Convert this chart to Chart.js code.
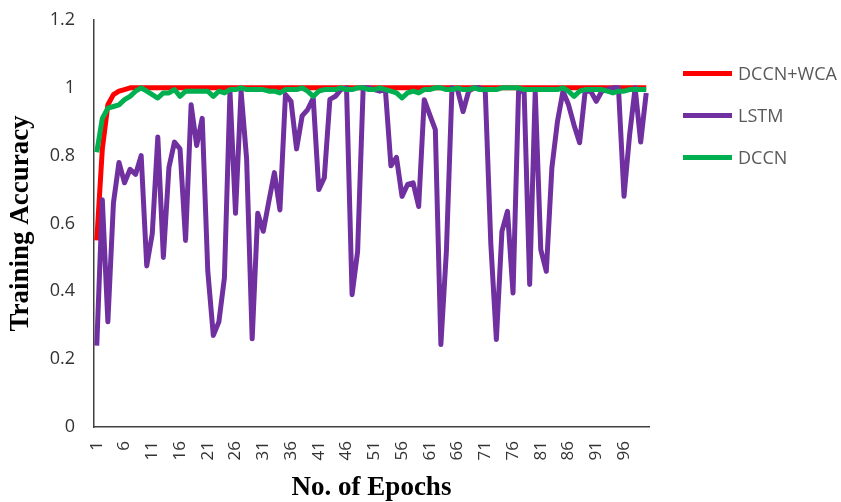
<!DOCTYPE html>
<html>
<head>
<meta charset="utf-8">
<title>Training Accuracy</title>
<script src="https://cdn.jsdelivr.net/npm/chart.js@4.4.1/dist/chart.umd.min.js"></script>
<style>
  html, body { margin: 0; padding: 0; background: #fff; }
  #wrap { position: relative; width: 841px; height: 502px; }
  #legend { position: absolute; left: 683px; top: 52px; font-family: "Open Sans", sans-serif; font-size: 18px; color: #595959; }
  .item { display: flex; align-items: center; height: 42px; }
  .swatch { width: 49px; height: 5px; margin-right: 6px; }
</style>
</head>
<body>
<div id="wrap">
  <canvas id="accChart" width="841" height="502"></canvas>
  <div id="legend"></div>
</div>
<script>
// epochs 1..100, labelled every 5th on the axis
const epochs = Array.from({ length: 100 }, (_, i) => String(i + 1));

const seriesNames = ['DCCN+WCA', 'LSTM', 'DCCN'];
const seriesColors = ['#FF0000', '#7030A0', '#00B050'];

const dccnWca = [
  0.55, 0.82, 0.95, 0.98, 0.99, 0.995, 1, 1, 1, 1,
  1, 1, 1, 1, 1, 1, 1, 1, 1, 1,
  1, 1, 1, 1, 1, 1, 1, 1, 1, 1,
  1, 1, 1, 1, 1, 1, 1, 1, 1, 1,
  1, 1, 1, 1, 1, 1, 1, 1, 1, 1,
  1, 1, 1, 1, 1, 1, 1, 1, 1, 1,
  1, 1, 1, 1, 1, 1, 1, 1, 1, 1,
  1, 1, 1, 1, 1, 1, 1, 1, 1, 1,
  1, 1, 1, 1, 1, 1, 1, 1, 1, 1,
  1, 1, 1, 1, 1, 1, 1, 1, 1, 1
];

const lstm = [
  0.24, 0.67, 0.31, 0.66, 0.78, 0.72, 0.76, 0.745, 0.80, 0.475,
  0.57, 0.855, 0.50, 0.765, 0.84, 0.82, 0.55, 0.95, 0.83, 0.91,
  0.46, 0.27, 0.31, 0.44, 0.99, 0.63, 0.99, 0.79, 0.26, 0.63,
  0.577, 0.665, 0.75, 0.64, 0.98, 0.96, 0.82, 0.917, 0.936, 0.97,
  0.70, 0.735, 0.966, 0.975, 0.995, 1.0, 0.39, 0.518, 1.0, 1.0,
  0.995, 0.99, 0.995, 0.77, 0.795, 0.68, 0.715, 0.72, 0.65, 0.965,
  0.92, 0.877, 0.243, 0.52, 1.0, 0.995, 0.93, 0.99, 1.0, 1.0,
  0.99, 0.54, 0.258, 0.577, 0.636, 0.395, 0.99, 0.99, 0.42, 0.99,
  0.523, 0.459, 0.764, 0.90, 0.99, 0.95, 0.89, 0.838, 0.99, 0.99,
  0.96, 0.99, 0.995, 1.0, 1.0, 0.68, 0.86, 1.0, 0.84, 0.985
];

const dccn = [
  0.81, 0.91, 0.94, 0.945, 0.95, 0.965, 0.975, 0.99, 1.0, 0.99,
  0.98, 0.97, 0.985, 0.985, 0.995, 0.975, 0.99, 0.99, 0.99, 0.99,
  0.99, 0.975, 0.99, 0.985, 0.995, 0.995, 1.0, 0.995, 0.995, 0.995,
  0.995, 0.99, 0.99, 0.985, 0.995, 0.995, 0.995, 1.0, 0.99, 0.975,
  0.99, 0.995, 0.995, 0.995, 1.0, 0.995, 0.995, 1.0, 1.0, 0.995,
  0.995, 1.0, 0.995, 0.99, 0.985, 0.97, 0.985, 0.99, 0.985, 0.995,
  0.995, 1.0, 1.0, 0.995, 0.995, 1.0, 0.995, 0.995, 1.0, 0.995,
  0.995, 0.995, 0.995, 1.0, 1.0, 1.0, 1.0, 0.995, 0.995, 0.995,
  0.995, 0.995, 0.995, 0.995, 1.0, 0.99, 0.975, 0.99, 0.995, 0.995,
  0.995, 0.995, 0.99, 0.985, 0.99, 0.99, 0.995, 0.995, 0.995, 0.995
];

const seriesData = [dccnWca, lstm, dccn];

const xTickFont = { family: '"Open Sans", sans-serif', size: 17 };
const yTickFont = { family: '"Open Sans", sans-serif', size: 18 };
const titleFont = { family: '"Liberation Serif", "Times New Roman", serif', size: 27, weight: 'bold', lineHeight: 1 };

// Excel draws the last series on top, so lower "order" wins
const datasets = seriesNames.map((name, i) => ({
  label: name,
  data: seriesData[i],
  borderColor: seriesColors[i],
  backgroundColor: seriesColors[i],
  borderWidth: 5,
  pointRadius: 0,
  tension: 0,
  borderJoinStyle: 'round',
  order: seriesNames.length - i
}));

new Chart(document.getElementById('accChart'), {
  type: 'line',
  data: { labels: epochs, datasets: datasets },
  options: {
    responsive: false,
    animation: false,
    layout: { padding: { left: 0, right: 192, top: 20, bottom: 0 } },
    plugins: { legend: { display: false }, tooltip: { enabled: false } },
    scales: {
      x: {
        offset: true,
        grid: { display: false, drawTicks: false },
        border: { display: true, color: '#404040', width: 1.5 },
        ticks: {
          autoSkip: false, minRotation: 90, maxRotation: 90, padding: 14,
          color: '#333', font: xTickFont,
          callback: (v, i) => (i % 5 === 0 ? epochs[i] : '')
        },
        title: { display: true, text: 'No. of Epochs', color: '#000', font: titleFont, padding: { top: 4, bottom: 0 } },
        // fixed box so the plot sits where the original one does
        afterFit: s => { s.height = 75; s.paddingLeft = 0; s.paddingRight = 0; }
      },
      y: {
        min: 0, max: 1.2,
        grid: { display: false, drawTicks: false },
        border: { display: true, color: '#404040', width: 1.5 },
        ticks: {
          stepSize: 0.2, padding: 19, color: '#333', font: yTickFont,
          callback: v => String(Number(v.toFixed(1)))
        },
        title: { display: true, text: 'Training Accuracy', color: '#000', font: titleFont, padding: { top: 8, bottom: 0 } },
        afterFit: s => { s.width = 94; s.paddingTop = 0; s.paddingBottom = 0; }
      }
    }
  }
});

// legend on the right, as in the original figure
const legend = document.getElementById('legend');
seriesNames.forEach((name, i) => {
  const row = document.createElement('div');
  row.className = 'item';
  row.innerHTML = `<span class="swatch" style="background:${seriesColors[i]}"></span><span>${name}</span>`;
  legend.appendChild(row);
});
</script>
</body>
</html>
